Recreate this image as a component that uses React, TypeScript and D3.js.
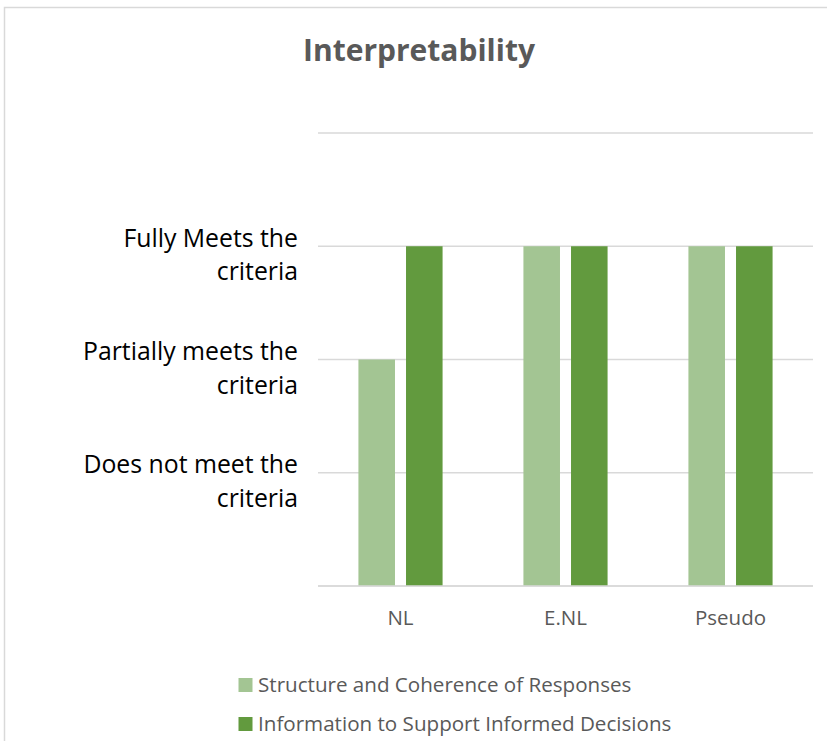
import React from "react";
import * as d3 from "d3";

const categories = ["NL", "E.NL", "Pseudo"];
const seriesNames = [
  "Structure and Coherence of Responses",
  "Information to Support Informed Decisions",
];
const structureValues = [2, 3, 3];
const informationValues = [3, 3, 3];
const yTickValues = [0, 1, 2, 3, 4];
const yTickLabels: string[][] = [
  [],
  ["Does not meet the", "criteria"],
  ["Partially meets the", "criteria"],
  ["Fully Meets the", "criteria"],
  [],
];
const colors = ["#A3C593", "#629A3E"];
const title = "Interpretability";

export default function App() {
  const W = 827;
  const H = 741;
  const plotLeft = 318;
  const plotRight = 813;
  const plotTop = 133;
  const plotBottom = 586;

  const x = d3
    .scaleBand<string>()
    .domain(categories)
    .range([plotLeft, plotRight])
    .paddingInner(0.49)
    .paddingOuter(0.245);
  const xInner = d3
    .scaleBand<number>()
    .domain([0, 1])
    .range([0, x.bandwidth()])
    .paddingInner(0.232);
  const y = d3.scaleLinear().domain([0, 4]).range([plotBottom, plotTop]);

  const series = [structureValues, informationValues];
  const font = "'Open Sans', sans-serif";

  return (
    <svg
      width={W}
      height={H}
      style={{ position: "absolute", left: 0, top: 0, background: "#fff" }}
      fontFamily={font}
    >
      <rect x={4.5} y={7.5} width={W + 20} height={H + 20} fill="#fff" stroke="#D9D9D9" strokeWidth={1.5} />
      <text x={419} y={61} textAnchor="middle" fontSize={30} fontWeight="bold" fill="#595959">
        {title}
      </text>
      {yTickValues.map((t) => (
        <line key={t} x1={plotLeft} x2={plotRight} y1={y(t)} y2={y(t)} stroke="#D9D9D9" strokeWidth={1.5} />
      ))}
      {yTickValues.map((t, i) =>
        yTickLabels[i].map((s, j) => (
          <text key={`${t}-${j}`} x={298} y={y(t) + 0.5 + j * 33.5} textAnchor="end" fontSize={24.8} fill="#000">
            {s}
          </text>
        ))
      )}
      {categories.map((c, ci) =>
        series.map((vals, si) => (
          <rect
            key={`${c}-${si}`}
            x={(x(c) as number) + (xInner(si) as number)}
            y={y(vals[ci])}
            width={xInner.bandwidth()}
            height={y(0) - y(vals[ci])}
            fill={colors[si]}
          />
        ))
      )}
      <line x1={plotLeft} x2={plotRight} y1={y(0)} y2={y(0)} stroke="#D9D9D9" strokeWidth={1.5} />
      {categories.map((c) => (
        <text key={c} x={(x(c) as number) + x.bandwidth() / 2} y={625} textAnchor="middle" fontSize={20.5} fill="#595959">
          {c}
        </text>
      ))}
      {seriesNames.map((n, i) => (
        <g key={n}>
          <rect x={238.5} y={678 + i * 39} width={14} height={14} fill={colors[i]} />
          <text x={258} y={692 + i * 39} fontSize={20.6} fill="#595959">
            {n}
          </text>
        </g>
      ))}
    </svg>
  );
}
